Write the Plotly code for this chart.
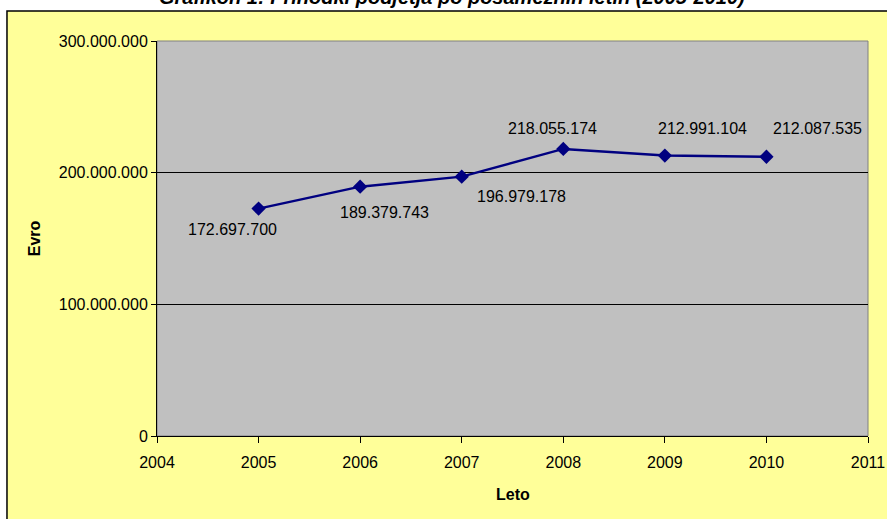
import plotly.graph_objects as go

# ---- data ----
years = [2005, 2006, 2007, 2008, 2009, 2010]
values = [172697700, 189379743, 196979178, 218055174, 212991104, 212087535]
y_tick_vals = [0, 100000000, 200000000, 300000000]
y_tick_text = ["0", "100.000.000", "200.000.000", "300.000.000"]
x_tick_vals = [2004, 2005, 2006, 2007, 2008, 2009, 2010, 2011]
title_text = "Grafikon 1: Prihodki podjetja po posameznih letih (2005-2010)"
x_title = "Leto"
y_title = "Evro"

# label pixel offsets (style only)
label_dx = [-26, 24, 60, -11, 38, 51]
label_dy = [21, 26, 20, -20, -27, -28]

FONT = "Liberation Sans, Arial, sans-serif"


def fmt(v):
    return f"{v:,}".replace(",", ".")


fig = go.Figure()
fig.add_trace(go.Scatter(
    x=years, y=values, mode="lines+markers",
    line=dict(color="#000080", width=2.5),
    marker=dict(symbol="diamond", size=11, color="#000080"),
    hoverinfo="skip", showlegend=False,
))

annotations = []
for x, v, dx, dy in zip(years, values, label_dx, label_dy):
    annotations.append(dict(
        x=x, y=v, xref="x", yref="y", text=fmt(v), showarrow=False,
        xshift=dx, yshift=-dy, font=dict(size=16, color="black", family=FONT),
        xanchor="center", yanchor="middle",
    ))

# axis titles
annotations.append(dict(x=0.5, y=-0.149, xref="paper", yref="paper", text="<b>" + x_title + "</b>",
                        showarrow=False, font=dict(size=16, color="black", family=FONT),
                        xanchor="center", yanchor="middle"))
annotations.append(dict(x=-0.172, y=0.5, xref="paper", yref="paper", text="<b>" + y_title + "</b>",
                        showarrow=False, textangle=-90, font=dict(size=16, color="black", family=FONT),
                        xanchor="center", yanchor="middle"))
# title (cut off at top in reference)
annotations.append(dict(x=0.415, y=1.111, xref="paper", yref="paper", text="<b><i>" + title_text + "</i></b>",
                        showarrow=False, font=dict(size=20, color="black", family=FONT),
                        xanchor="center", yanchor="middle"))

shapes = [
    # yellow chart area with black border
    dict(type="rect", xref="paper", yref="paper", x0=-0.211, x1=1.2, y0=-0.4, y1=1.076,
         fillcolor="#FFFF99", line=dict(color="black", width=1.5), layer="below"),
    # grey plot area
    dict(type="rect", xref="paper", yref="paper", x0=0, x1=1, y0=0, y1=1,
         fillcolor="#C0C0C0", line=dict(color="#808080", width=1), layer="below"),
]

fig.update_layout(
    width=887, height=519,
    margin=dict(l=157, r=19, t=41, b=83),
    paper_bgcolor="white",
    plot_bgcolor="rgba(0,0,0,0)",
    font=dict(family=FONT, size=16, color="black"),
    annotations=annotations,
    shapes=shapes,
    showlegend=False,
)
fig.update_xaxes(
    range=[2004, 2011], tickvals=x_tick_vals, ticks="outside", ticklen=6,
    tickcolor="black", showline=True, linecolor="black", linewidth=1,
    showgrid=False, zeroline=False, tickfont=dict(size=16), fixedrange=True,
    ticklabelstandoff=6, automargin=False, ticklabeloverflow="allow",
)
fig.update_yaxes(
    range=[0, 300000000], tickvals=y_tick_vals, ticktext=y_tick_text,
    ticks="outside", ticklen=5, tickcolor="black", showline=True,
    linecolor="black", linewidth=1, showgrid=True, gridcolor="black",
    gridwidth=1, zeroline=False, tickfont=dict(size=16), fixedrange=True,
    automargin=False,
)

fig.write_html(
    "out.html",
    config={"displayModeBar": False},
    post_script="document.body.style.margin='0';document.body.style.overflow='hidden';",
)
